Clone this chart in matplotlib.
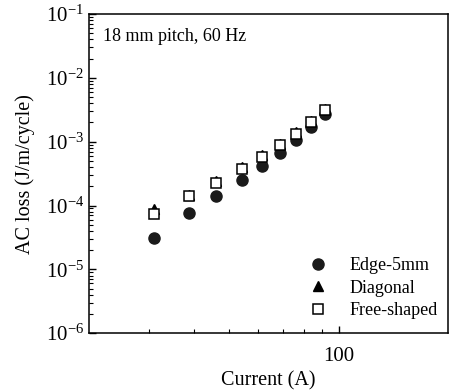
import matplotlib
matplotlib.use('Agg')
import matplotlib.pyplot as plt
from matplotlib.ticker import LogLocator, NullFormatter, FixedLocator, FixedFormatter

plt.rcParams['font.family'] = ['Liberation Serif', 'DejaVu Serif']
plt.rcParams['mathtext.fontset'] = 'custom'
plt.rcParams['mathtext.rm'] = 'Liberation Serif'
plt.rcParams['mathtext.it'] = 'Liberation Serif:italic'

# data
current = [31, 38.6, 46, 54, 61.3, 69, 76.2, 83.8, 91.7]
edge_5mm = [3.05e-5, 7.6e-5, 1.39e-4, 2.55e-4, 4.17e-4, 6.67e-4, 1.05e-3, 1.71e-3, 2.76e-3]
diagonal = [8.9e-5, 1.45e-4, 2.4e-4, 4.0e-4, 6.1e-4, 9.3e-4, 1.4e-3, 2.1e-3, 3.3e-3]
free_shaped = [7.45e-5, 1.39e-4, 2.29e-4, 3.79e-4, 5.85e-4, 8.9e-4, 1.34e-3, 2.02e-3, 3.19e-3]

fig = plt.figure(figsize=(4.49, 3.91), dpi=100)
ax = fig.add_axes([0.198, 0.148, 0.8, 0.816])

ax.plot(current, edge_5mm, 'o', color='#1a1a1a', markersize=8, label='Edge-5mm')
ax.plot(current, diagonal, '^', color='black', markersize=7, label='Diagonal')
ax.plot(current, free_shaped, 's', markerfacecolor='white', markeredgecolor='black',
        markeredgewidth=1.1, markersize=7, label='Free-shaped')

ax.set_xscale('log')
ax.set_yscale('log')
ax.set_xlim(20.5, 200)
ax.set_ylim(1e-6, 1e-1)

ax.xaxis.set_major_locator(FixedLocator([100]))
ax.xaxis.set_major_formatter(FixedFormatter(['100']))
ax.xaxis.set_minor_locator(FixedLocator([30, 40, 50, 60, 70, 80, 90]))
ax.xaxis.set_minor_formatter(NullFormatter())
ax.yaxis.set_major_locator(LogLocator(base=10, numticks=10))
ax.yaxis.set_minor_locator(LogLocator(base=10, subs=range(2, 10), numticks=20))
ax.yaxis.set_minor_formatter(NullFormatter())

ax.tick_params(which='both', direction='in', top=False, right=False, labelsize=15)
ax.tick_params(axis='x', which='major', pad=10)
ax.tick_params(which='major', length=5, width=1)
ax.tick_params(which='minor', length=3, width=0.8)
for s in ax.spines.values():
    s.set_linewidth(1.1)

ax.set_xlabel('Current (A)', fontsize=14.5, labelpad=4)
ax.set_ylabel('AC loss (J/m/cycle)', fontsize=14.5, labelpad=8)
ax.text(0.04, 0.93, '18 mm pitch, 60 Hz', transform=ax.transAxes, fontsize=13, va='center')

ax.legend(loc='lower right', frameon=False, fontsize=13, handletextpad=0.7,
          labelspacing=0.3, borderaxespad=0.2, bbox_to_anchor=(1.0, 0.01))

fig.savefig('out.png', dpi=100)
